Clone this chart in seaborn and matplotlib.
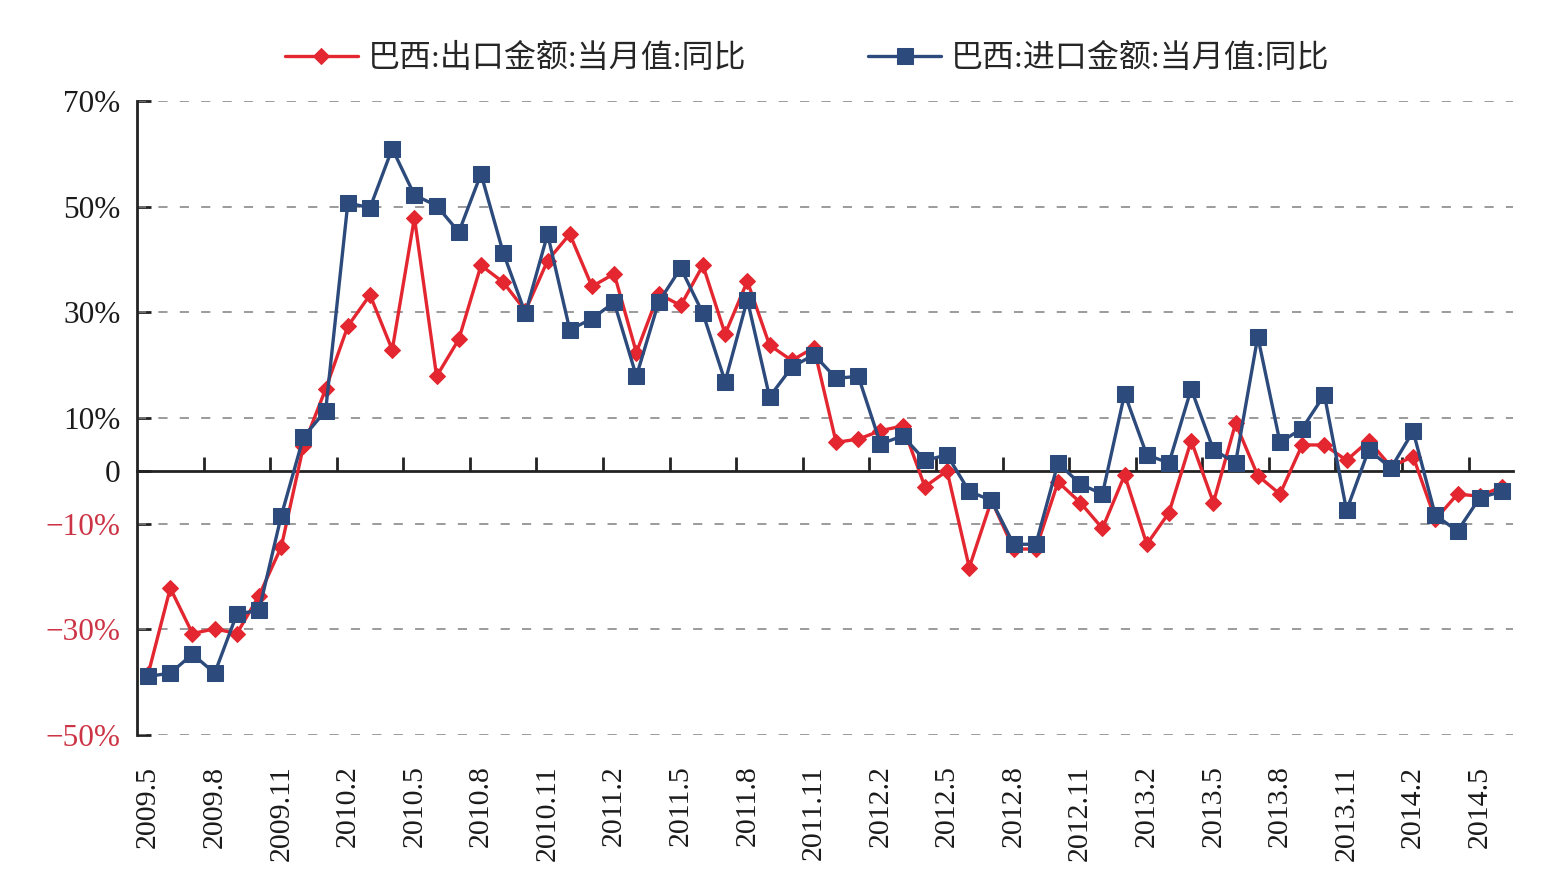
import numpy as np
import pandas as pd
import matplotlib
matplotlib.use("Agg")
import matplotlib.pyplot as plt
import seaborn as sns

months = ["2009.5", "2009.6", "2009.7", "2009.8", "2009.9", "2009.10", "2009.11", "2009.12",
          "2010.1", "2010.2", "2010.3", "2010.4", "2010.5", "2010.6", "2010.7", "2010.8",
          "2010.9", "2010.10", "2010.11", "2010.12", "2011.1", "2011.2", "2011.3", "2011.4",
          "2011.5", "2011.6", "2011.7", "2011.8", "2011.9", "2011.10", "2011.11", "2011.12",
          "2012.1", "2012.2", "2012.3", "2012.4", "2012.5", "2012.6", "2012.7", "2012.8",
          "2012.9", "2012.10", "2012.11", "2012.12", "2013.1", "2013.2", "2013.3", "2013.4",
          "2013.5", "2013.6", "2013.7", "2013.8", "2013.9", "2013.10", "2013.11", "2013.12",
          "2014.1", "2014.2", "2014.3", "2014.4", "2014.5", "2014.6"]

export_yoy = [-38.5, -22.2, -30.8, -29.9, -30.8, -23.6, -14.4, 4.7, 15.5, 27.4,
              33.3, 22.9, 47.9, 17.9, 24.9, 38.9, 35.7, 30.3, 39.8, 44.8,
              34.9, 37.3, 22.4, 33.5, 31.3, 38.9, 25.9, 35.9, 23.8, 20.9,
              23.3, 5.4, 6.0, 7.6, 8.5, -3.0, 0.0, -18.3, -5.6, -14.8,
              -14.8, -2.1, -6.0, -10.9, -0.8, -13.9, -7.9, 5.7, -6.0, 9.0,
              -0.9, -4.4, 4.9, 4.9, 2.0, 5.7, 0.8, 2.7, -9.2, -4.4,
              -4.8, -3.0]

import_yoy = [-38.9, -38.3, -34.7, -38.3, -27.1, -26.4, -8.5, 6.4, 11.4, 50.7,
              49.8, 61.0, 52.2, 50.2, 45.2, 56.2, 41.3, 29.8, 44.8, 26.7,
              28.8, 31.9, 17.9, 31.9, 38.4, 29.8, 16.9, 32.4, 14.0, 19.6,
              22.0, 17.5, 17.9, 5.1, 6.6, 2.0, 3.0, -3.9, -5.6, -13.9,
              -13.9, 1.5, -2.5, -4.4, 14.6, 3.0, 1.5, 15.5, 4.0, 1.5,
              25.4, 5.4, 8.0, 14.4, -7.5, 4.0, 0.5, 7.5, -8.4, -11.4,
              -5.1, -3.9]

tick_labels = ["2009.5", "2009.8", "2009.11", "2010.2", "2010.5", "2010.8", "2010.11",
               "2011.2", "2011.5", "2011.8", "2011.11", "2012.2", "2012.5", "2012.8",
               "2012.11", "2013.2", "2013.5", "2013.8", "2013.11", "2014.2", "2014.5"]

y_ticks = [70, 50, 30, 10, 0, -10, -30, -50]
y_labels = ["70%", "50%", "30%", "10%", "0", "\u221210%", "\u221230%", "\u221250%"]

name_exp = "巴西:出口金额:当月值:同比"
name_imp = "巴西:进口金额:当月值:同比"

RED = "#e3262f"
BLUE = "#2c4a7c"
LABEL_RED = "#cc3344"

sns.set_theme(style="white")
plt.rcParams["font.family"] = ["Liberation Serif", "Noto Sans CJK SC", "DejaVu Sans"]

idx = np.arange(len(months))
df = pd.DataFrame({"idx": idx, "month": months, "exp": export_yoy, "imp": import_yoy})

fig = plt.figure(figsize=(15.64, 8.91), dpi=100)
ax = fig.add_axes([0.0876, 0.1751, 0.8798, 0.7115])

sns.lineplot(data=df, x="idx", y="exp", ax=ax, color=RED, lw=2.4, marker="D",
             markersize=8.5, markeredgecolor=RED, markerfacecolor=RED, label=name_exp,
             sort=False, zorder=3)
sns.lineplot(data=df, x="idx", y="imp", ax=ax, color=BLUE, lw=2.4, marker="s",
             markersize=11.5, markeredgecolor=BLUE, markerfacecolor=BLUE, label=name_imp,
             sort=False, zorder=4)

ax.set_xlim(-0.5, len(months) - 0.5)
ax.set_ylim(-50, 70)
ax.set_xlabel("")
ax.set_ylabel("")

# y axis
ax.set_yticks(y_ticks)
ax.set_yticklabels(y_labels, fontsize=22.5)
for lab, v in zip(ax.get_yticklabels(), y_ticks):
    lab.set_color(LABEL_RED if v < 0 else "#1a1a1a")
ax.tick_params(axis="y", direction="in", length=10, width=2, color="#222222", pad=12, left=True)
for v in y_ticks:
    if v != 0:
        ax.axhline(v, color="#808080", lw=1.1, ls=(0, (6, 8)), zorder=1)

# spines
for s in ["top", "right"]:
    ax.spines[s].set_visible(False)
ax.spines["left"].set_color("#222222")
ax.spines["left"].set_linewidth(2)
ax.spines["bottom"].set_position(("data", 0))
ax.spines["bottom"].set_color("#222222")
ax.spines["bottom"].set_linewidth(2)

# tick marks on zero line between categories, every 3 months
ax.set_xticks(np.arange(2.5, len(months) - 1, 3))
ax.tick_params(axis="x", direction="in", length=10, width=2, color="#222222",
               labelbottom=False, bottom=True)

# category labels along the bottom of the plot
sec = ax.secondary_xaxis(0.0)
sec.set_xticks(np.arange(0, len(months), 3))
sec.set_xticklabels(tick_labels, rotation=90, fontsize=21.5, color="#1a1a1a")
sec.tick_params(axis="x", length=0, pad=22)
sec.spines["bottom"].set_visible(False)

# legend
ax.legend(loc="upper center", bbox_to_anchor=(0.487, 1.135), ncol=2, frameon=False,
          handlelength=2.3, columnspacing=3.8, handletextpad=0.3,
          prop={"family": ["Liberation Serif", "Noto Sans CJK SC"], "size": 23})

fig.savefig("out.png", dpi=100, facecolor="white")
